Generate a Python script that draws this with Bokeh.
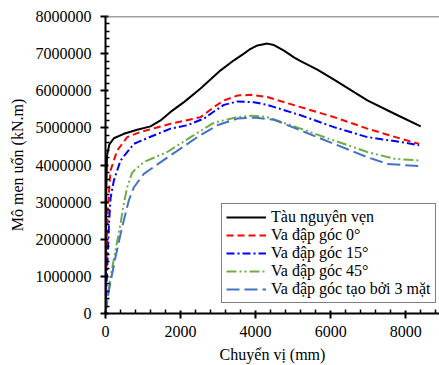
from bokeh.plotting import figure
from bokeh.embed import file_html
from bokeh.resources import INLINE
from bokeh.models import Range1d, FixedTicker, PrintfTickFormatter, Span

# Data (displacement mm, moment kN.m)
intact_x = [0, 15, 40, 100, 222, 489, 844, 1200, 1467, 1733, 2100, 2533, 3067, 3422, 3689, 3867, 4050, 4311, 4489, 4756, 5022, 5200, 5645, 6089, 6978, 7700, 8400]
intact_y = [0, 3000000, 4250000, 4550000, 4720000, 4840000, 4950000, 5040000, 5200000, 5430000, 5700000, 6060000, 6550000, 6820000, 7000000, 7130000, 7220000, 7270000, 7230000, 7080000, 6900000, 6800000, 6570000, 6300000, 5740000, 5380000, 5040000]

a0_x = [0, 20, 60, 133, 311, 578, 933, 1300, 1733, 2100, 2533, 2889, 3156, 3511, 3900, 4311, 5200, 6089, 6978, 7867, 8356]
a0_y = [0, 1200000, 2800000, 3850000, 4390000, 4750000, 4890000, 4990000, 5110000, 5190000, 5290000, 5560000, 5740000, 5870000, 5890000, 5830000, 5560000, 5290000, 4980000, 4710000, 4570000]

a15_x = [0, 30, 89, 133, 222, 400, 756, 1200, 1733, 2178, 2622, 2889, 3156, 3511, 3956, 4300, 5200, 6089, 6978, 7867, 8356]
a15_y = [0, 800000, 2330000, 3100000, 3580000, 4120000, 4570000, 4760000, 4980000, 5070000, 5250000, 5440000, 5620000, 5710000, 5690000, 5620000, 5340000, 5020000, 4750000, 4620000, 4530000]

a45_x = [0, 133, 267, 400, 489, 578, 711, 1022, 1645, 2267, 2889, 3511, 3900, 4311, 5200, 6089, 6978, 7689, 8356]
a45_y = [0, 980000, 1700000, 2420000, 2960000, 3400000, 3800000, 4080000, 4350000, 4750000, 5140000, 5290000, 5330000, 5290000, 4980000, 4660000, 4350000, 4170000, 4120000]

a3_x = [0, 89, 267, 444, 622, 756, 1022, 1645, 1911, 2444, 2978, 3511, 3956, 4489, 5200, 6089, 6978, 7511, 8356]
a3_y = [0, 620000, 1520000, 2330000, 3050000, 3400000, 3760000, 4200000, 4380000, 4750000, 5070000, 5250000, 5280000, 5220000, 4930000, 4570000, 4210000, 4030000, 3970000]

labels = ["Tàu nguyên vẹn", "Va đập góc 0°", "Va đập góc 15°", "Va đập góc 45°", "Va đập góc tạo bởi 3 mặt"]
x_ticks = [0, 2000, 4000, 6000, 8000]
y_ticks = [0, 1000000, 2000000, 3000000, 4000000, 5000000, 6000000, 7000000, 8000000]

FONT = "Liberation Serif"

p = figure(width=439, height=365, output_backend="svg", toolbar_location=None,
           x_range=Range1d(0, 8900), y_range=Range1d(0, 8000000),
           min_border_left=105, min_border_right=0, min_border_top=16, min_border_bottom=52)
p.outline_line_color = None
p.grid.visible = False
p.background_fill_color = "white"
p.border_fill_color = "white"

p.add_layout(Span(location=8000000, dimension="width", line_color="#404040", line_width=1.5))

series = [
    (intact_x, intact_y, "black", None),
    (a0_x, a0_y, "#FF0000", "7 4"),
    (a15_x, a15_y, "#0000FF", "8 3 2 3"),
    (a45_x, a45_y, "#70AD47", "10 3 2 3 2 3"),
    (a3_x, a3_y, "#4472C4", "13 5"),
]
for (xs, ys, col, dash), lab in zip(series, labels):
    kw = dict(line_color=col, line_width=2, legend_label=lab, line_join="round")
    if dash:
        kw["line_dash"] = dash
    p.line(xs, ys, **kw)

for ax, ticks in ((p.xaxis[0], x_ticks), (p.yaxis[0], y_ticks)):
    step = ticks[1] - ticks[0]
    minors = []
    for t in ticks:
        for k in range(1, 5):
            minors.append(t + k * step / 5)
    ax.ticker = FixedTicker(ticks=ticks, minor_ticks=minors)
    ax.axis_line_color = "black"
    ax.axis_line_width = 2
    ax.major_tick_line_color = "black"
    ax.major_tick_line_width = 2
    ax.minor_tick_line_color = "black"
    ax.minor_tick_line_width = 1.5
    ax.major_tick_in = 3
    ax.major_tick_out = 5
    ax.minor_tick_in = 4
    ax.minor_tick_out = 0
    ax.major_label_text_font = FONT
    ax.major_label_text_font_size = "16px"
    ax.major_label_text_color = "black"
    ax.axis_label_text_font = FONT
    ax.axis_label_text_font_size = "16px"
    ax.axis_label_text_font_style = "normal"
    ax.axis_label_text_color = "black"

p.yaxis[0].formatter = PrintfTickFormatter(format="%d")
p.xaxis[0].formatter = PrintfTickFormatter(format="%d")
p.xaxis[0].axis_label = "Chuyển vị (mm)"
p.yaxis[0].axis_label = "Mô men uốn (kN.m)"
p.xaxis[0].major_label_standoff = 7
p.yaxis[0].major_label_standoff = 9
p.xaxis[0].axis_label_standoff = 6
p.yaxis[0].axis_label_standoff = 7

leg = p.legend[0]
leg.location = (116, 10)
leg.border_line_color = "black"
leg.border_line_width = 1.5
leg.background_fill_alpha = 1
leg.label_text_font = FONT
leg.label_text_font_size = "16px"
leg.label_text_color = "black"
leg.label_height = 16
leg.glyph_height = 16
leg.glyph_width = 40
leg.label_standoff = 5
leg.spacing = 0
leg.padding = 4
leg.margin = 0

open("out.html", "w").write(file_html(p, INLINE))
